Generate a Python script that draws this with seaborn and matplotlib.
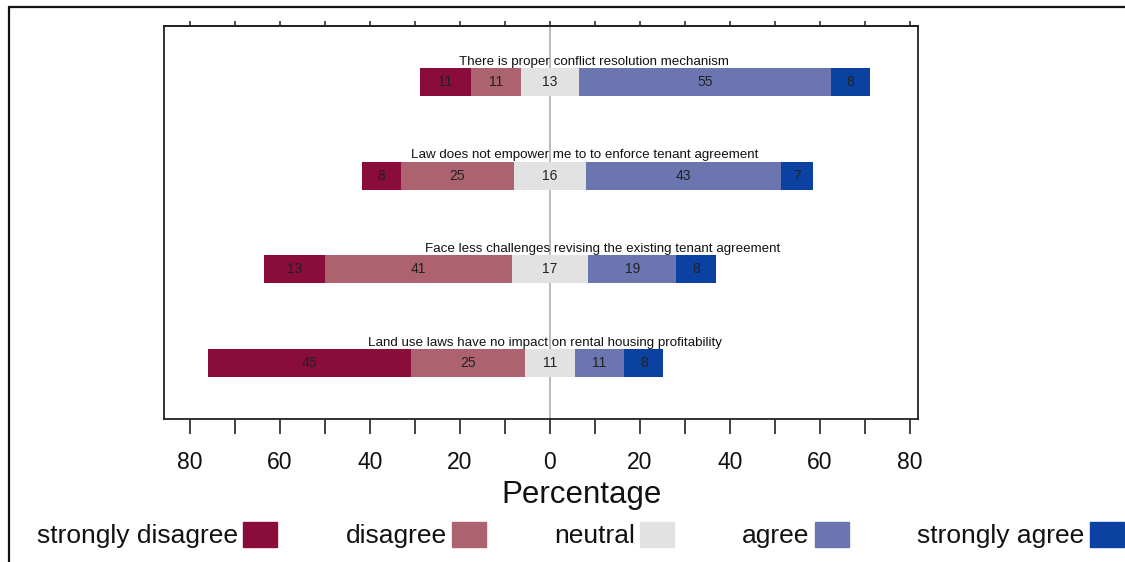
import matplotlib
matplotlib.use("Agg")
import matplotlib.pyplot as plt
import seaborn as sns
import pandas as pd
import numpy as np
from matplotlib.patches import Patch
from matplotlib.lines import Line2D

# ---------------- data ----------------
statements = [
    "There is proper conflict resolution mechanism",
    "Law does not empower me to to enforce tenant agreement",
    "Face less challenges revising the existing tenant agreement",
    "Land use laws have no impact on rental housing profitability",
]
levels = ["strongly disagree", "disagree", "neutral", "agree", "strongly agree"]
strongly_disagree = [11.3, 8.6, 13.6, 45.2]
disagree = [11.1, 25.2, 41.5, 25.3]
neutral = [13.0, 16.0, 17.0, 11.0]
agree = [55.9, 43.4, 19.6, 11.0]
strongly_agree = [8.7, 7.0, 8.7, 8.7]
tick_values = [-80, -70, -60, -50, -40, -30, -20, -10, 0, 10, 20, 30, 40, 50, 60, 70, 80]
tick_labels = ["80", "", "60", "", "40", "", "20", "", "0", "", "20", "", "40", "", "60", "", "80"]

# ---------------- style ----------------
colors = ["#8a0c3a", "#ad6270", "#e2e2e2", "#6b76b0", "#0b41a0"]
label_x = [9.8, 7.8, 11.8, -1.1]  # horizontal placement of statement captions

sns.set_theme(style="white")
plt.rcParams["font.family"] = ["Liberation Sans", "DejaVu Sans"]

df = pd.DataFrame({
    "statement": statements,
    "sd": strongly_disagree,
    "d": disagree,
    "n": neutral,
    "a": agree,
    "sa": strongly_agree,
})
df["n_r"] = df["n"] / 2
df["a_r"] = df["n_r"] + df["a"]
df["sa_r"] = df["a_r"] + df["sa"]
df["n_l"] = -df["n"] / 2
df["d_l"] = df["n_l"] - df["d"]
df["sd_l"] = df["d_l"] - df["sd"]

fig = plt.figure(figsize=(11.25, 5.62), dpi=100)
W, H = 1125, 562
ax = fig.add_axes([164 / W, 1 - 419 / H, (918 - 164) / W, (419 - 26) / H])

ax.axvline(0, color="#a8a8a8", lw=1.1, zorder=0.5)

draw = [("sa_r", colors[4]), ("a_r", colors[3]), ("n_r", colors[2]),
        ("sd_l", colors[0]), ("d_l", colors[1]), ("n_l", colors[2])]
for col, c in draw:
    sns.barplot(data=df, x=col, y="statement", order=statements, orient="h",
                color=c, saturation=1, width=0.3, linewidth=0, errorbar=None,
                ax=ax, zorder=2)

# segment value labels
for i, row in df.iterrows():
    segs = [(row["sd_l"], row["sd"]), (row["d_l"], row["d"]),
            (row["n_l"], row["n"]), (row["n_r"], row["a"]), (row["a_r"], row["sa"])]
    for start, val in segs:
        ax.text(start + val / 2, i, f"{int(val)}", ha="center", va="center",
                fontsize=10, color="#222222", zorder=3)
    ax.text(label_x[i], i - 0.15 - 0.035, row["statement"], ha="center",
            va="baseline", fontsize=9.6, color="#111111", zorder=3)

ax.set_xlim(-85.8, 81.8)
ax.set_ylim(3.6, -0.6)
ax.set_yticks([])
ax.set_ylabel("")
ax.set_xlabel("")
ax.set_xticks(tick_values)
ax.set_xticklabels(tick_labels, fontsize=16.5, color="#111111")
ax.tick_params(axis="x", direction="out", length=10.8, width=1.2, pad=12,
               color="#222222", bottom=True)
for s in ax.spines.values():
    s.set_color("#222222")
    s.set_linewidth(1.3)

sec = ax.secondary_xaxis("top")
sec.set_xticks(tick_values)
sec.set_xticklabels([])
sec.tick_params(direction="out", length=3.6, width=1.1, color="#222222")
sec.spines["top"].set_color("#222222")
sec.spines["top"].set_linewidth(1.3)

fig.text(582 / W, 1 - 495 / H, "Percentage", ha="center", va="center",
         fontsize=22.5, color="#111111")

handles = [Patch(facecolor=c, edgecolor=c, label=l) for c, l in zip(colors, levels)]
fig.legend(handles=handles, ncol=5, markerfirst=False, frameon=False,
           loc="center left", bbox_to_anchor=(37 / W, 1 - 535 / H),
           fontsize=19, handlelength=1.29, handleheight=1.1, handletextpad=0.2,
           columnspacing=2.58, borderpad=0, borderaxespad=0,
           labelcolor="#111111")

# outer frame of the figure panel
fig.add_artist(Line2D([9 / W, 1], [1 - 7 / H, 1 - 7 / H], color="#111111", lw=1.6))
fig.add_artist(Line2D([9 / W, 9 / W], [0, 1 - 7 / H], color="#111111", lw=1.6))

fig.savefig("out.png", dpi=100)
